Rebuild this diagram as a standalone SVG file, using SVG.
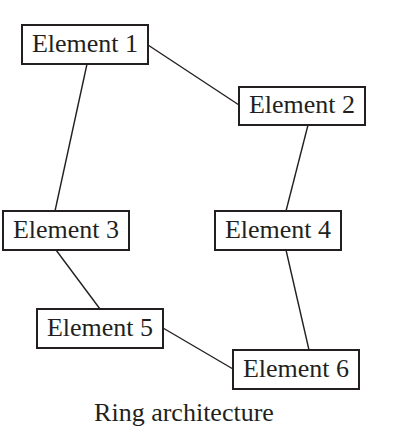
<svg xmlns="http://www.w3.org/2000/svg" width="409" height="432" viewBox="0 0 409 432">
<style>
.box{fill:#fff;stroke:#231f20;stroke-width:2}
.lbl{font-family:"Liberation Serif","Times New Roman",serif;font-size:26px;fill:#231f20;text-anchor:middle}
.edge{stroke:#231f20;stroke-width:1.4;fill:none}
</style>
<rect width="409" height="432" fill="#fff"/>
<g id="connectors">
<line class="edge" x1="148" y1="45" x2="239" y2="105"/>
<line class="edge" x1="87" y1="64" x2="55" y2="211"/>
<line class="edge" x1="308" y1="125" x2="286" y2="211"/>
<line class="edge" x1="56" y1="250" x2="100" y2="309"/>
<line class="edge" x1="286" y1="250" x2="309" y2="350"/>
<line class="edge" x1="163" y1="328" x2="233" y2="369"/>
</g>
<g id="element1"><rect class="box" x="22" y="25" width="126" height="39"/><text class="lbl" x="85" y="52">Element 1</text></g>
<g id="element2"><rect class="box" x="239" y="87" width="126" height="38"/><text class="lbl" x="302" y="113">Element 2</text></g>
<g id="element3"><rect class="box" x="3" y="211" width="126" height="39"/><text class="lbl" x="66" y="238">Element 3</text></g>
<g id="element4"><rect class="box" x="215" y="211" width="126" height="39"/><text class="lbl" x="278" y="238">Element 4</text></g>
<g id="element5"><rect class="box" x="37" y="309" width="126" height="39"/><text class="lbl" x="100" y="336">Element 5</text></g>
<g id="element6"><rect class="box" x="233" y="350" width="126" height="39"/><text class="lbl" x="296" y="377">Element 6</text></g>
<text id="caption" class="lbl" x="184" y="421">Ring architecture</text>
</svg>
